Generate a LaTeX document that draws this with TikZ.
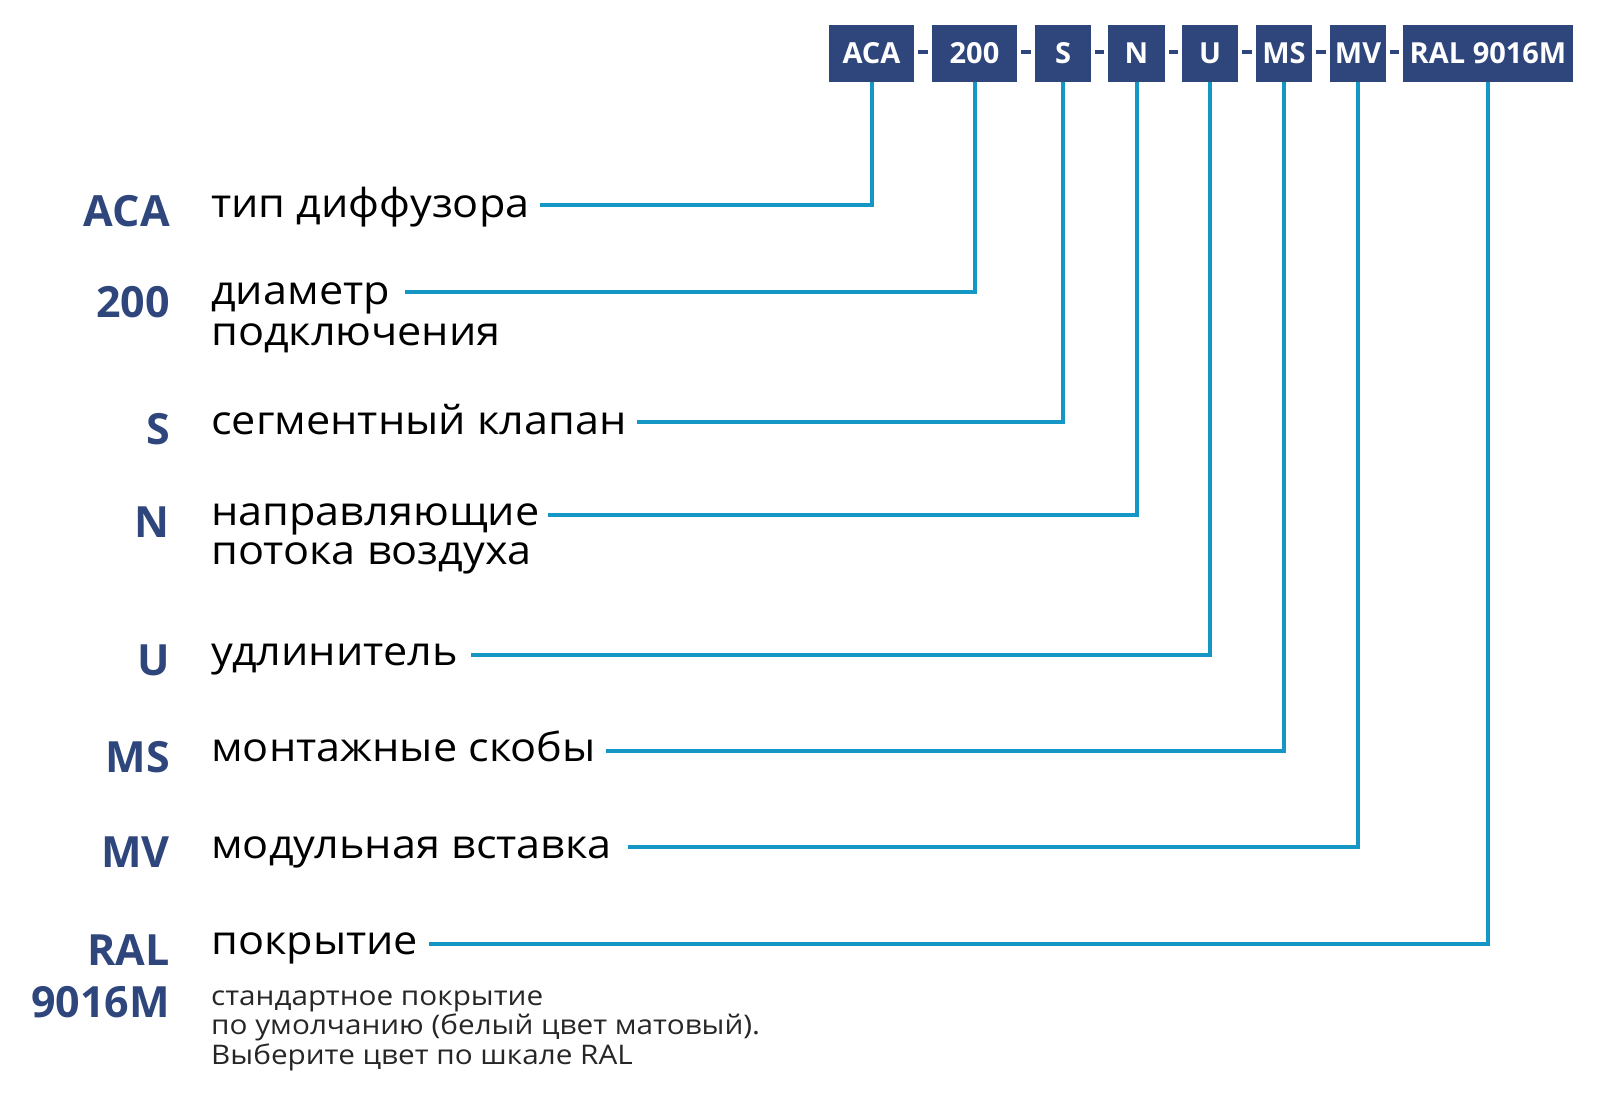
\documentclass[tikz,border=0pt]{standalone}
\usepackage{fontspec}
\setmainfont{Open Sans}
\newfontfamily\descfont[FakeStretch=1.08]{Open Sans}
\newfontfamily\notefont[FakeStretch=1.10]{Open Sans}
\definecolor{navy}{HTML}{2F467D}
\definecolor{linec}{HTML}{1597C6}
\begin{document}
\begin{tikzpicture}[x=1pt,y=-1pt,
  codebox/.style={fill=navy,text=white,inner sep=0pt,minimum height=56.5pt,font=\fontsize{29}{30}\selectfont\bfseries},
  code/.style={text=navy,inner sep=0pt,font=\fontsize{43}{46}\selectfont\bfseries},
  desc/.style={text=black,inner sep=0pt,font=\descfont\fontsize{40}{42}\selectfont},
  note/.style={text=black!85,inner sep=0pt,font=\notefont\fontsize{27}{29}\selectfont},
  conn/.style={draw=linec,line width=4pt},
  dashc/.style={draw=navy,line width=4.5pt}]
\useasboundingbox (0,0) rectangle (1597,1116);
% code boxes
\node[codebox,minimum width=85pt] (bACA) at (871.5,53.3) {ACA};
\node[codebox,minimum width=85pt] (b200) at (974.5,53.3) {200};
\node[codebox,minimum width=56pt] (bS) at (1063,53.3) {S};
\node[codebox,minimum width=57pt] (bN) at (1136.5,53.3) {N};
\node[codebox,minimum width=56pt] (bU) at (1210,53.3) {U};
\node[codebox,minimum width=56pt] (bMS) at (1284,53.3) {MS};
\node[codebox,minimum width=56pt] (bMV) at (1358,53.3) {MV};
\node[codebox,minimum width=170pt] (bRAL) at (1488,53.3) {RAL 9016M};
% dashes
\foreach \a/\b in {bACA/b200,b200/bS,bS/bN,bN/bU,bU/bMS,bMS/bMV,bMV/bRAL}
  \draw[dashc] ([xshift=4pt,yshift=1.5pt]\a.east) -- ([xshift=-4pt,yshift=1.5pt]\b.west);
% code labels
\node[code,anchor=base east] (cACA) at (170,226) {ACA};
\node[code,anchor=base east] (c200) at (170,317) {200};
\node[code,anchor=base east] (cS) at (170,444) {S};
\node[code,anchor=base east] (cN) at (170,537) {N};
\node[code,anchor=base east] (cU) at (170,675) {U};
\node[code,anchor=base east] (cMS) at (170,772) {MS};
\node[code,anchor=base east] (cMV) at (170,867) {MV};
\node[code,anchor=base east] (cRAL) at (170,965) {RAL};
\node[code,anchor=base east] (cRAL2) at (170,1017) {9016M};
% descriptions
\node[desc,anchor=base west] (tACA) at (211,217) {тип диффузора};
\node[desc,anchor=base west] (t200) at (211,304) {диаметр};
\node[desc,anchor=base west] (t200b) at (211,345) {подключения};
\node[desc,anchor=base west] (tS) at (211,434) {сегментный клапан};
\node[desc,anchor=base west] (tN) at (211,525) {направляющие};
\node[desc,anchor=base west] (tNb) at (211,564) {потока воздуха};
\node[desc,anchor=base west] (tU) at (211,665) {удлинитель};
\node[desc,anchor=base west] (tMS) at (211,761) {монтажные скобы};
\node[desc,anchor=base west] (tMV) at (211,858) {модульная вставка};
\node[desc,anchor=base west] (tRAL) at (211,954) {покрытие};
\node[note,anchor=base west] (n1) at (211,1005) {стандартное покрытие};
\node[note,anchor=base west] (n2) at (211,1034) {по умолчанию (белый цвет матовый).};
\node[note,anchor=base west] (n3) at (211,1064) {Выберите цвет по шкале RAL};
% connector start points
\coordinate (sACA) at (540,205);
\coordinate (s200) at (405,292);
\coordinate (sS) at (637,422);
\coordinate (sN) at (548,515);
\coordinate (sU) at (471,655);
\coordinate (sMS) at (606,751);
\coordinate (sMV) at (628,847);
\coordinate (sRAL) at (429,944);
\draw[conn] (sACA) -| (bACA.south);
\draw[conn] (s200) -| (b200.south);
\draw[conn] (sS) -| (bS.south);
\draw[conn] (sN) -| (bN.south);
\draw[conn] (sU) -| (bU.south);
\draw[conn] (sMS) -| (bMS.south);
\draw[conn] (sMV) -| (bMV.south);
\draw[conn] (sRAL) -| (bRAL.south);
\end{tikzpicture}
\end{document}
